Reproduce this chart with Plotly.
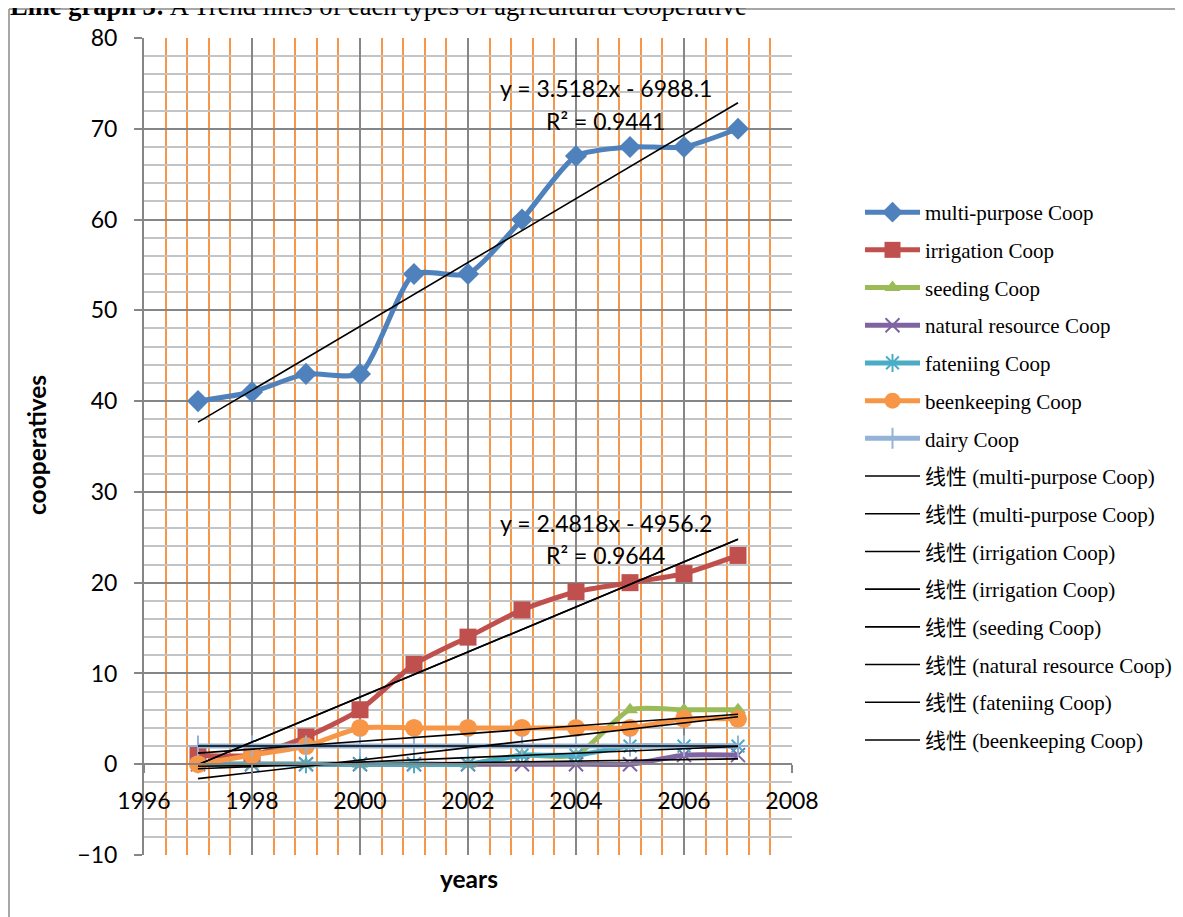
import numpy as np
import plotly.graph_objects as go

years = [1997, 1998, 1999, 2000, 2001, 2002, 2003, 2004, 2005, 2006, 2007]
multi_purpose = [40, 41, 43, 43, 54, 54, 60, 67, 68, 68, 70]
irrigation = [1, 1, 3, 6, 11, 14, 17, 19, 20, 21, 23]
seeding = [0, 0, 0, 0, 0, 0, 1, 1, 6, 6, 6]
natural_resource = [0, 0, 0, 0, 0, 0, 0, 0, 0, 1, 1]
fattening = [0, 0, 0, 0, 0, 0, 1, 1, 2, 2, 2]
beekeeping = [0, 1, 2, 4, 4, 4, 4, 4, 4, 5, 5]
dairy = [2, 2, 2, 2, 2, 2, 2, 2, 2, 2, 2]

series_names = ["multi-purpose Coop", "irrigation Coop", "seeding Coop",
                "natural resource Coop", "fateniing Coop", "beenkeeping Coop", "dairy Coop"]
series_values = [multi_purpose, irrigation, seeding, natural_resource, fattening, beekeeping, dairy]
colors = ["#4F81BD", "#C0504D", "#9BBB59", "#8064A2", "#4BACC6", "#F79646", "#95B3D7"]
symbols = ["diamond", "square", "triangle-up", "x-thin-open", "asterisk-open", "circle", "cross-thin-open"]
msizes = [17, 17, 14, 14, 15, 18, 15]

trend_labels = ["线性 (multi-purpose Coop)", "线性 (multi-purpose Coop)", "线性 (irrigation Coop)",
                "线性 (irrigation Coop)", "线性 (seeding Coop)", "线性 (natural resource Coop)",
                "线性 (fateniing Coop)", "线性 (beenkeeping Coop)"]
trend_sources = [multi_purpose, dairy, irrigation, irrigation, seeding, natural_resource, fattening, beekeeping]

eq_texts = ["y = 3.5182x - 6988.1", "R² = 0.9441", "y = 2.4818x - 4956.2", "R² = 0.9644"]
eq_x = [2004.56, 2004.54, 2004.56, 2004.54]
eq_y = [74.5, 70.9, 26.6, 23.1]

fig = go.Figure()
for i, (name, vals) in enumerate(zip(series_names, series_values)):
    open_sym = symbols[i].endswith("open")
    fig.add_trace(go.Scatter(
        x=years, y=vals, name=name, mode="lines+markers",
        line=dict(color=colors[i], width=5, shape="spline", smoothing=0.6),
        marker=dict(symbol=symbols[i], size=msizes[i], color=colors[i],
                    line=dict(color=colors[i], width=2 if open_sym else 0)),
        legendgroup="g%d" % i,
    ))

for j, (lab, src) in enumerate(zip(trend_labels, trend_sources)):
    k, b = np.polyfit(np.array(years, float), np.array(src, float), 1)
    xs = np.array([years[0], years[-1]], float)
    fig.add_trace(go.Scatter(
        x=xs, y=k * xs + b, name=lab, mode="lines",
        line=dict(color="black", width=1.6), legendgroup="t%d" % j,
    ))

for t, x, y in zip(eq_texts, eq_x, eq_y):
    fig.add_annotation(x=x, y=y, text=t, showarrow=False,
                       font=dict(family="Lato", size=23, color="black"))

OFF = 8  # page body margin
EXTRA = 80  # figure extends past the window on the right so the legend never pushes the margins
W, H = 1183 - OFF + EXTRA, 917 - OFF
L, R, T, B = 144 - OFF, 792 - OFF, 38 - OFF, 855 - OFF
pw, ph = R - L, B - T

def px(xp):
    return (xp - OFF - L) / pw

def py(yp):
    return (B - (yp - OFF)) / ph

# title (partly cut off at the top, as in the reference)
fig.add_annotation(xref="paper", yref="paper", x=px(8), y=py(23), xanchor="left", yanchor="bottom",
                   text="<b>Line graph 3:</b> A Trend lines of each types of agricultural cooperative",
                   showarrow=False, font=dict(family="Liberation Serif", size=26.5, color="black"))
# axis titles
fig.add_annotation(xref="paper", yref="paper", x=px(469), y=py(878), xanchor="center", yanchor="middle",
                   text="<b>years</b>", showarrow=False,
                   font=dict(family="Lato", size=24.5, color="black"))
fig.add_annotation(xref="paper", yref="paper", x=px(36), y=py(445), xanchor="center", yanchor="middle",
                   text="<b>cooperatives</b>", textangle=-90, showarrow=False,
                   font=dict(family="Lato", size=24.5, color="black"))

# chart frame
fig.add_shape(type="line", xref="paper", yref="paper", x0=px(9), x1=px(1250), y0=py(9), y1=py(9),
              line=dict(color="#8A8A8A", width=1.5))
fig.add_shape(type="line", xref="paper", yref="paper", x0=px(9), x1=px(9), y0=py(9), y1=py(930),
              line=dict(color="#8A8A8A", width=1.5))

fig.update_layout(
    width=W, height=H,
    margin=dict(l=L, r=W - R, t=T, b=H - B, pad=0),
    paper_bgcolor="white", plot_bgcolor="white",
    showlegend=True,
    legend=dict(x=px(860), y=py(192), xanchor="left", yanchor="top",
                font=dict(family="Liberation Serif, Noto Sans CJK SC", size=21, color="black"),
                itemwidth=55, tracegroupgap=7.4, bgcolor="rgba(0,0,0,0)"),
    xaxis=dict(range=[1996, 2008], tick0=1996, dtick=2, showgrid=True,
               gridcolor="#868686", gridwidth=2,
               minor=dict(dtick=0.4, tick0=1996, showgrid=True, gridcolor="#F79646", gridwidth=2),
               anchor="free", position=py(764), showline=True, linecolor="#868686", linewidth=2,
               ticks="outside", ticklen=8, tickcolor="#868686", tickwidth=2,
               ticklabelstandoff=8,
               tickfont=dict(family="Lato", size=23, color="black"), zeroline=False),
    yaxis=dict(range=[-10, 80], tick0=0, dtick=10, showgrid=True,
               gridcolor="#868686", gridwidth=2,
               minor=dict(dtick=2, showgrid=True, gridcolor="#C4C4C4", gridwidth=2),
               showline=True, linecolor="#868686", linewidth=2,
               ticks="outside", ticklen=8, tickcolor="#868686", tickwidth=2,
               ticklabelstandoff=12,
               tickfont=dict(family="Lato", size=23, color="black"), zeroline=False),
)

fig.write_html("out.html")
